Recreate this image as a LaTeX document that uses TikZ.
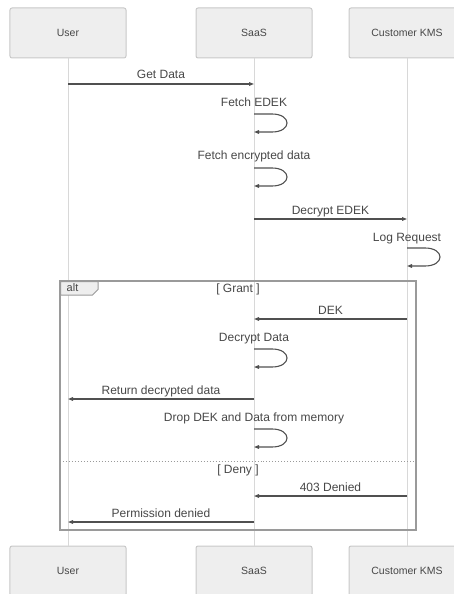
\documentclass[tikz,border=0pt]{standalone}
\usepackage{fontspec}
\setmainfont{Liberation Sans}
\usetikzlibrary{arrows.meta}
\definecolor{boxfill}{HTML}{EEEEEE}
\definecolor{boxline}{HTML}{C8C8C8}
\definecolor{lifeline}{HTML}{D8D8D8}
\definecolor{msgline}{HTML}{505050}
\definecolor{txt}{HTML}{474747}
\definecolor{frameline}{HTML}{9A9A9A}
\tikzset{
  actor/.style={draw=boxline, fill=boxfill, line width=1bp, rounded corners=2bp,
    minimum width=116bp, minimum height=50bp, inner sep=0pt,
    font=\fontsize{10.5bp}{12bp}\selectfont, text=txt},
  life/.style={draw=lifeline, line width=1bp},
  msg/.style={draw=msgline, line width=1.1bp, -{Triangle[length=5bp,width=3.6bp]}},
  lbl/.style={anchor=base, inner sep=0pt, font=\fontsize{12bp}{14bp}\selectfont, text=txt},
  frame/.style={draw=frameline, line width=1.4bp},
}
\newcommand{\selfloop}[2]{% lifeline x, top y
  \draw[msg] (#1,#2) -- ++(18,0) .. controls ++(20,0) and ++(20,0) .. ++(0,18) -- ++(-18,0);
}
\begin{document}
\begin{tikzpicture}[x=1bp,y=-1bp]
\useasboundingbox (0,0) rectangle (454,594);
\clip (0,0) rectangle (454,594);

% participants, top and bottom
\node[actor] (userT) at (68,33) {User};
\node[actor] (saasT) at (254,33) {SaaS};
\node[actor] (kmsT)  at (407,33) {Customer KMS};
\node[actor] (userB) at (68,571) {User};
\node[actor] (saasB) at (254,571) {SaaS};
\node[actor] (kmsB)  at (407,571) {Customer KMS};

% lifelines
\draw[life] (userT.south) -- (userB.north);
\draw[life] (saasT.south) -- (saasB.north);
\draw[life] (kmsT.south) -- (kmsB.north);

% alt frame with its tab and the operand separator
\draw[frame] (60,281) rectangle (416,530);
\draw[draw=frameline, line width=1bp, fill=boxfill]
  (60.7,281.7) -- (98,281.7) -- (98,289.5) -- (92.5,295) -- (60.7,295) -- cycle;
\node[anchor=base, inner sep=0pt, font=\fontsize{11bp}{12bp}\selectfont, text=txt] (altlbl) at (72.5,291.5) {alt};
\draw[frameline, line width=1bp, dotted] (60,461) -- (416,461);
\node[lbl] (grant) at (238,292.5) {[ Grant ]};
\node[lbl] (deny)  at (238,473.5) {[ Deny ]};

% message end points on the lifelines
\coordinate (m1a) at (68,84);   \coordinate (m1b) at (254,84);
\coordinate (m2a) at (254,219); \coordinate (m2b) at (407,219);
\coordinate (m3a) at (407,319); \coordinate (m3b) at (254,319);
\coordinate (m4a) at (254,399); \coordinate (m4b) at (68,399);
\coordinate (m5a) at (407,496); \coordinate (m5b) at (254,496);
\coordinate (m6a) at (254,522); \coordinate (m6b) at (68,522);

% messages between participants
\draw[msg] (m1a) -- (m1b);
\node[lbl] (getdata) at (161,79) {Get Data};
\draw[msg] (m2a) -- (m2b);
\node[lbl] (decedek) at (330.5,214) {Decrypt EDEK};
\draw[msg] (m3a) -- (m3b);
\node[lbl] (dek) at (330.5,314) {DEK};
\draw[msg] (m4a) -- (m4b);
\node[lbl] (retdata) at (161,394) {Return decrypted data};
\draw[msg] (m5a) -- (m5b);
\node[lbl] (denied) at (330.5,491) {403 Denied};
\draw[msg] (m6a) -- (m6b);
\node[lbl] (permden) at (161,517) {Permission denied};

% self messages
\node[lbl] (fedek) at (254,107) {Fetch EDEK};
\selfloop{254}{114}
\node[lbl] (fdata) at (254,160) {Fetch encrypted data};
\selfloop{254}{168}
\node[lbl] (logreq) at (407,241) {Log Request};
\selfloop{407}{248}
\node[lbl] (decdata) at (254,341) {Decrypt Data};
\selfloop{254}{349}
\node[lbl] (drop) at (254,421) {Drop DEK and Data from memory};
\selfloop{254}{429}
\end{tikzpicture}
\end{document}
